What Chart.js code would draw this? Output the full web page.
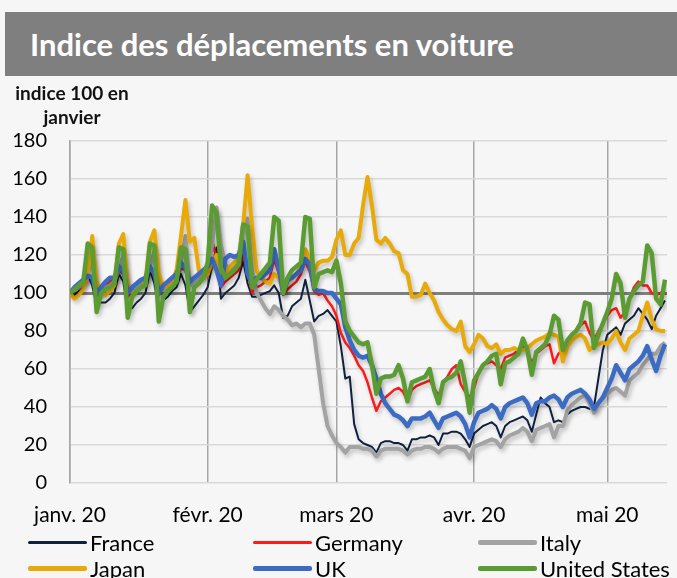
<!DOCTYPE html>
<html lang="fr">
<head>
<meta charset="utf-8">
<title>Indice des déplacements en voiture</title>
<script src="https://cdn.jsdelivr.net/npm/chart.js@4.4.0/dist/chart.umd.min.js"></script>
<style>
  body { margin: 0; background: #f6f6f6; font-family: Lato, sans-serif; }
  #wrap { position: relative; width: 677px; height: 578px; overflow: hidden; background: #f6f6f6; }
  #header { position: absolute; left: 5px; top: 12px; width: 672px; height: 64px; background: #7f7f7f;
            color: #fff; font-weight: bold; font-size: 31px; line-height: 64px; padding-left: 25px; box-sizing: border-box; }
  #unit { position: absolute; left: 6px; top: 81px; width: 132px; text-align: center; font-weight: bold;
          font-size: 19px; line-height: 24px; color: #111; }
  canvas { position: absolute; left: 0; top: 0; }
  .item { position: absolute; height: 26px; display: flex; align-items: center; font-size: 22px; color: #000; white-space: nowrap; }
  .item .swatch { display: inline-block; width: 59px; margin-right: 3px; border-radius: 2px; }
</style>
</head>
<body>
<div id="wrap">
  <canvas id="chart" width="677" height="578"></canvas>
  <div id="header">Indice des déplacements en voiture</div>
  <div id="unit">indice 100 en<br>janvier</div>
  <div id="legend"></div>
</div>
<script>
// days since 13 Jan 2020, one point per day
const nDays = 135;
const days = Array.from({ length: nDays }, (_, i) => i);
const monthTicks = [0, 31, 60, 91, 121];
const monthLabels = ['janv. 20', 'févr. 20', 'mars 20', 'avr. 20', 'mai 20'];

const france = [100,99,101,103,110,104,94, 95,95,97,100,110,106,91, 92,95,97,100,112,105,92,
  96,98,101,103,110,104,90, 93,96,99,103,114,124,97, 100,102,104,108,117,105,98, 98,99,100,101,104,100,87,
  88,93,95,97,107,96,85, 88,89,91,88,85,72,55, 56,31,23,21,20,19,16, 21,22,22,21,21,20,17,
  23,23,24,24,25,24,20, 26,26,27,27,26,23,19, 26,28,30,31,32,30,24, 30,32,33,34,35,33,27,
  36,45,42,40,32,33,32, 36,38,39,40,40,39,40, 55,70,78,80,82,78,84, 86,88,92,89,86,81,88, 92,96];
const germany = [100,102,104,106,110,108,98, 101,104,106,108,112,110,98, 102,104,106,108,113,110,99,
  103,105,106,108,113,112,104, 106,108,110,115,128,118,103, 106,108,110,112,120,112,100, 103,104,106,108,118,110,99,
  102,104,106,110,117,111,101, 99,100,96,93,88,79,74, 71,67,62,59,53,45,38, 43,45,47,49,50,48,43,
  49,51,52,53,54,50,46, 52,56,60,62,52,48,45, 50,58,62,63,64,62,60, 66,67,68,70,72,70,63,
  68,70,72,73,63,68,70, 75,78,80,83,85,79,75, 80,84,88,91,92,87,90, 97,103,106,104,104,100,99, 100,101];
const italy = [100,102,103,105,110,118,100, 101,103,104,106,112,120,100, 102,104,105,107,114,122,100,
  103,105,106,108,116,130,104, 106,108,110,113,125,145,125, 115,112,114,118,136,139,112, 100,96,92,89,93,91,88,
  86,83,84,82,84,84,78, 60,42,30,25,21,19,16, 19,19,19,18,18,17,14, 17,18,18,18,18,17,15,
  17,18,18,19,19,18,16, 18,19,19,19,18,17,13, 19,20,21,22,23,22,19, 23,25,26,27,29,27,22,
  28,29,30,31,24,30,30, 38,41,43,45,46,42,37, 42,45,47,49,50,48,46, 54,56,58,62,65,68,68, 72,74];
const japan = [100,97,99,102,110,130,106, 100,99,101,104,126,131,104, 100,101,103,106,127,133,110,
  103,104,106,112,130,149,127, 129,112,108,110,116,120,108, 110,114,116,118,136,162,135, 112,108,106,105,110,108,102,
  106,108,110,114,123,118,112, 116,117,117,119,128,133,120, 120,126,129,146,161,146,128, 126,129,126,122,121,112,110,
  98,98,99,105,100,96,90, 86,83,81,80,85,72,69, 73,78,76,72,71,73,68, 70,70,71,70,70,71,73,
  75,76,77,79,78,77,64, 72,75,77,78,76,70,72, 73,74,73,76,80,74,70, 76,78,80,88,95,86,81, 80,80];
const uk = [100,103,105,107,109,108,100, 103,106,108,108,114,112,100, 103,105,107,108,114,110,100,
  104,106,108,110,116,113,106, 108,110,112,114,118,112,104, 118,120,119,120,127,110,105, 108,108,110,112,123,113,100,
  107,108,110,112,118,115,102, 101,101,100,100,97,94,82, 75,70,67,66,67,62,55, 47,42,39,36,35,33,30,
  34,34,34,35,37,33,29, 34,35,36,37,35,31,24, 32,37,38,39,41,39,34, 40,42,43,44,45,42,36,
  42,43,43,45,46,44,40, 45,47,48,49,47,44,39, 42,45,50,55,62,58,54, 60,62,64,67,72,65,59, 67,73];
const usa = [100,102,104,106,126,124,90, 100,102,103,105,124,123,87, 98,101,103,104,126,125,85,
  98,101,103,106,124,123,90, 103,105,108,116,146,142,113, 108,110,112,115,136,135,103, 107,110,113,116,140,138,100,
  108,112,114,116,140,139,103, 110,111,112,111,117,105,85, 80,77,74,73,74,62,47, 55,56,56,57,62,55,43,
  53,54,55,56,60,49,42, 53,55,56,58,64,52,37, 54,58,62,64,67,68,52, 63,64,66,68,76,70,57,
  69,71,73,78,88,86,70, 75,78,80,84,95,94,71, 78,84,90,97,110,105,87, 97,101,104,106,125,121,97, 94,107];

const series = [
  { label: 'France', data: france, color: '#10203f', width: 2 },
  { label: 'Germany', data: germany, color: '#ff1a1a', width: 2.5 },
  { label: 'Italy', data: italy, color: '#a3a3a3', width: 4 },
  { label: 'Japan', data: japan, color: '#e8aa08', width: 4 },
  { label: 'UK', data: uk, color: '#3b6bc3', width: 4.5 },
  { label: 'United States', data: usa, color: '#5a9b32', width: 4.5 }
];

const tickFont = { family: 'Lato', size: 20 };

// soft drop shadow under the lines, like the spreadsheet original
const lineShadow = {
  id: 'lineShadow',
  beforeDatasetsDraw(chart) {
    const c = chart.ctx;
    c.save();
    c.shadowColor = 'rgba(0,0,0,0.22)';
    c.shadowBlur = 4;
    c.shadowOffsetX = 2;
    c.shadowOffsetY = 3;
  },
  afterDatasetsDraw(chart) { chart.ctx.restore(); }
};

new Chart(document.getElementById('chart'), {
  type: 'line',
  data: {
    labels: days,
    datasets: series.map((s, i) => ({
      label: s.label,
      data: s.data,
      borderColor: s.color,
      borderWidth: s.width,
      order: series.length - 1 - i,
      pointRadius: 0,
      tension: 0,
      borderJoinStyle: 'round',
      fill: false
    }))
  },
  options: {
    responsive: false,
    animation: false,
    devicePixelRatio: 1,
    layout: { padding: { top: 141, right: 10, bottom: 35, left: 0 } },
    plugins: { legend: { display: false }, tooltip: { enabled: false } },
    scales: {
      x: {
        type: 'linear',
        min: 0,
        max: 134.45,
        afterBuildTicks: s => { s.ticks = monthTicks.map(v => ({ value: v })); },
        afterFit: s => { s.height = 60; },
        ticks: {
          autoSkip: false, maxRotation: 0, padding: 20, color: '#000', font: { family: 'Lato', size: 21 },
          callback: v => monthLabels[monthTicks.indexOf(v)]
        },
        grid: { color: '#a6a6a6', lineWidth: 1.5, drawTicks: false },
        border: { display: false }
      },
      y: {
        min: 0,
        max: 180,
        afterFit: s => { s.width = 70; },
        ticks: { stepSize: 20, padding: 23, color: '#000', font: tickFont },
        grid: {
          color: c => c.tick.value === 100 ? '#7f7f7f' : '#d9d9d9',
          lineWidth: c => c.tick.value === 100 ? 3 : 1.5,
          drawTicks: false
        },
        border: { display: true, color: '#a6a6a6', width: 1.5 }
      }
    }
  },
  plugins: [lineShadow]
});

// legend: 3 columns, 2 rows
const legend = document.getElementById('legend');
const colX = [28, 253, 478];
const rowY = [529, 555];
series.forEach((s, i) => {
  const el = document.createElement('div');
  el.className = 'item';
  el.style.left = colX[i % 3] + 'px';
  el.style.top = rowY[Math.floor(i / 3)] + 'px';
  const sw = document.createElement('span');
  sw.className = 'swatch';
  sw.style.height = Math.max(3, Math.round(s.width + 0.5)) + 'px';
  sw.style.background = s.color;
  el.appendChild(sw);
  el.appendChild(document.createTextNode(s.label));
  legend.appendChild(el);
});
</script>
</body>
</html>
